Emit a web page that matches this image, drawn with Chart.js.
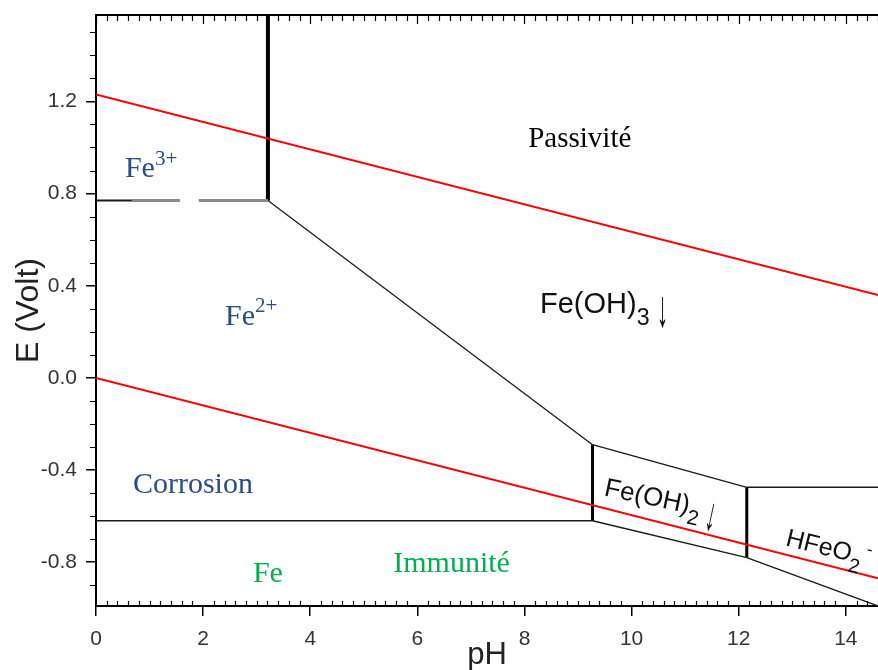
<!DOCTYPE html>
<html>
<head>
<meta charset="utf-8">
<script src="https://cdn.jsdelivr.net/npm/chart.js@4"></script>
<style>
  html, body { margin: 0; padding: 0; background: #fff; }
  canvas { display: block; }
</style>
</head>
<body>
<canvas id="pourbaix" width="878" height="670"></canvas>
<script>
// Diagramme E-pH du fer
var phTicks = [0, 2, 4, 6, 8, 10, 12, 14];
var eTicks = [-0.8, -0.4, 0.0, 0.4, 0.8, 1.2];

// droites de l'eau (rouge)
var eauO2 = [[0, 1.23], [14.6, 0.36]];
var eauH2 = [[0, 0.0], [14.6, -0.87]];

// frontieres du fer [pH, E]
var fe3Fe2Plein = [[0, 0.77], [0.67, 0.77]];
var fe3Fe2Tirets = [[0.67, 0.77], [3.21, 0.77]];
var fe3Hydroxyde3 = [[3.21, 0.77], [3.21, 1.6]];
var fe2Hydroxyde3 = [[3.21, 0.77], [9.27, -0.29]];
var fe2Fe = [[0, -0.62], [9.27, -0.62]];
var fe2Hydroxyde2 = [[9.27, -0.29], [9.27, -0.62]];
var hydroxyde3Hydroxyde2 = [[9.27, -0.29], [12.15, -0.475]];
var hydroxyde2Fe = [[9.27, -0.62], [12.15, -0.78]];
var hydroxyde2Hfeo2 = [[12.15, -0.475], [12.15, -0.78]];
var hydroxyde3Hfeo2 = [[12.15, -0.475], [14.6, -0.475]];
var hfeo2Fe = [[12.15, -0.78], [14.6, -0.99]];

function trait(points, couleur, epaisseur, tirets) {
  return {
    data: points.map(function(p){ return {x: p[0], y: p[1]}; }),
    showLine: true,
    borderColor: couleur,
    borderWidth: epaisseur,
    borderDash: tirets || [],
    pointRadius: 0,
    fill: false,
    tension: 0
  };
}

var SERIF = 'Liberation Serif';
var SANS = 'Liberation Sans';
var BLEU = '#2a4d85';
var VERT = '#00b050';

// textes places en coordonnees (pH, E) : point de depart de la ligne de base
var etiquettes = [
  {x: 8.07, y: 1.0, size: 29, family: SERIF, color: '#000', parts: [['Passivité']]},
  {x: 0.54, y: 0.87, size: 30, family: SERIF, color: BLEU, parts: [['Fe'], ['3+', 'sup']]},
  {x: 2.41, y: 0.228, size: 30, family: SERIF, color: BLEU, parts: [['Fe'], ['2+', 'sup']]},
  {x: 0.69, y: -0.50, size: 30, family: SERIF, color: BLEU, parts: [['Corrosion']]},
  {x: 2.93, y: -0.887, size: 30, family: SERIF, color: VERT, parts: [['Fe']]},
  {x: 5.55, y: -0.843, size: 30, family: SERIF, color: VERT, parts: [['Immunité']]},
  {x: 8.29, y: 0.28, size: 29, family: SANS, color: '#111', parts: [['Fe(OH)'], ['3', 'sub'], ['↓', 'fleche']]},
  {x: 9.47, y: -0.509, size: 26, family: SANS, color: '#111', angle: 12, parts: [['Fe(OH)'], ['2', 'sub'], ['↓', 'fleche']]},
  {x: 12.86, y: -0.726, size: 25, family: SANS, color: '#111', angle: 14, parts: [['HFeO'], ['2', 'sub'], ['-', 'charge']]}
];

var textes = {
  id: 'textes',
  afterDatasetsDraw: function(chart) {
    var ctx = chart.ctx;
    var sx = chart.scales.x, sy = chart.scales.y;
    etiquettes.forEach(function(e) {
      ctx.save();
      ctx.translate(sx.getPixelForValue(e.x), sy.getPixelForValue(e.y));
      if (e.angle) ctx.rotate(e.angle * Math.PI / 180);
      ctx.fillStyle = e.color;
      ctx.textAlign = 'left';
      ctx.textBaseline = 'alphabetic';
      var cx = 0;
      e.parts.forEach(function(p) {
        var kind = p[1] || '';
        var s = e.size, dy = 0;
        if (kind === 'sup') { s = e.size * 0.7; dy = -e.size * 0.43; }
        if (kind === 'charge') { s = e.size * 0.7; dy = -e.size * 0.43; cx += e.size * 0.12; }
        if (kind === 'sub') { s = e.size * 0.8; dy = e.size * 0.4; }
        if (kind === 'fleche') {
          // fleche fine et allongee
          cx += e.size * 0.25;
          ctx.save();
          ctx.font = e.size + 'px "' + e.family + '"';
          ctx.translate(cx, e.size * 0.45);
          ctx.scale(0.8, 1.8);
          ctx.fillText(p[0], 0, 0);
          ctx.restore();
          return;
        }
        ctx.font = s + 'px "' + e.family + '"';
        ctx.fillText(p[0], cx, dy);
        cx += ctx.measureText(p[0]).width;
      });
      ctx.restore();
    });
  }
};

// graduations secondaires et bord superieur
var graduations = {
  id: 'graduations',
  afterDraw: function(chart) {
    var ctx = chart.ctx, a = chart.chartArea;
    var sx = chart.scales.x, sy = chart.scales.y;
    ctx.save();
    ctx.strokeStyle = '#000';
    ctx.lineWidth = 2;
    ctx.beginPath();
    ctx.moveTo(a.left - 1, a.top);
    ctx.lineTo(a.right, a.top);
    ctx.stroke();
    ctx.lineWidth = 1.2;
    ctx.beginPath();
    for (var i = 0; i * 0.2 <= sx.max + 1e-6; i++) {
      var px = Math.round(sx.getPixelForValue(i * 0.2)) + 0.5;
      var majeur = i % 10 === 0;
      ctx.moveTo(px, a.top);
      ctx.lineTo(px, a.top + (majeur ? 9 : 6));
      if (!majeur) {
        ctx.moveTo(px, a.bottom);
        ctx.lineTo(px, a.bottom - 5);
      }
    }
    for (var j = Math.ceil(sy.min * 10); j <= Math.floor(sy.max * 10); j++) {
      if (j % 4 === 0) continue;
      var py = Math.round(sy.getPixelForValue(j / 10)) + 0.5;
      ctx.moveTo(a.left, py);
      ctx.lineTo(a.left - 6, py);
    }
    ctx.stroke();
    ctx.restore();
  }
};

var NOIR = '#1a1a1a';
var datasets = [
  trait(eauO2, '#ff0000', 2),
  trait(eauH2, '#ff0000', 2),
  trait(fe3Fe2Plein, NOIR, 2),
  trait(fe3Fe2Tirets, '#8a8a8a', 3, [48, 19, 120, 0]),
  trait(fe3Hydroxyde3, '#000', 4),
  trait(fe2Hydroxyde3, NOIR, 1.3),
  trait(fe2Fe, NOIR, 1.5),
  trait(fe2Hydroxyde2, '#000', 3),
  trait(hydroxyde3Hydroxyde2, NOIR, 1.3),
  trait(hydroxyde2Fe, NOIR, 1.3),
  trait(hydroxyde2Hfeo2, '#000', 3),
  trait(hydroxyde3Hfeo2, NOIR, 1.5),
  trait(hfeo2Fe, NOIR, 1.3)
];

new Chart(document.getElementById('pourbaix'), {
  type: 'scatter',
  data: { datasets: datasets },
  options: {
    responsive: false,
    animation: false,
    devicePixelRatio: 1,
    layout: { padding: { top: 15, right: 0, left: 0, bottom: 0 } },
    plugins: { legend: { display: false }, tooltip: { enabled: false } },
    scales: {
      x: {
        type: 'linear',
        min: 0,
        max: 14.6,
        afterFit: function(s) { s.height = 64; s.paddingLeft = 0; s.paddingRight = 0; },
        afterBuildTicks: function(s) { s.ticks = phTicks.map(function(v){ return {value: v}; }); },
        border: { display: true, color: '#000', width: 2 },
        grid: { drawOnChartArea: false, drawTicks: true, tickLength: 10, color: '#000', lineWidth: 1.5 },
        ticks: {
          padding: 11,
          color: '#333',
          font: { family: SANS, size: 21 },
          callback: function(v) { return String(v); }
        },
        title: {
          display: true,
          text: 'pH',
          color: '#222',
          font: { family: SANS, size: 31 },
          padding: { top: 0, bottom: -4 }
        }
      },
      y: {
        type: 'linear',
        min: -0.99,
        max: 1.575,
        afterFit: function(s) { s.width = 96; s.paddingTop = 0; s.paddingBottom = 0; },
        afterBuildTicks: function(s) { s.ticks = eTicks.map(function(v){ return {value: v}; }); },
        border: { display: true, color: '#000', width: 2 },
        grid: { drawOnChartArea: false, drawTicks: true, tickLength: 10, color: '#000', lineWidth: 1.5 },
        ticks: {
          padding: 9,
          color: '#333',
          font: { family: SANS, size: 21 },
          callback: function(v) { return Number(v).toFixed(1); }
        },
        title: {
          display: true,
          text: 'E (Volt)',
          color: '#222',
          font: { family: SANS, size: 32 },
          padding: { top: 10, bottom: 0 }
        }
      }
    }
  },
  plugins: [textes, graduations]
});
</script>
</body>
</html>
